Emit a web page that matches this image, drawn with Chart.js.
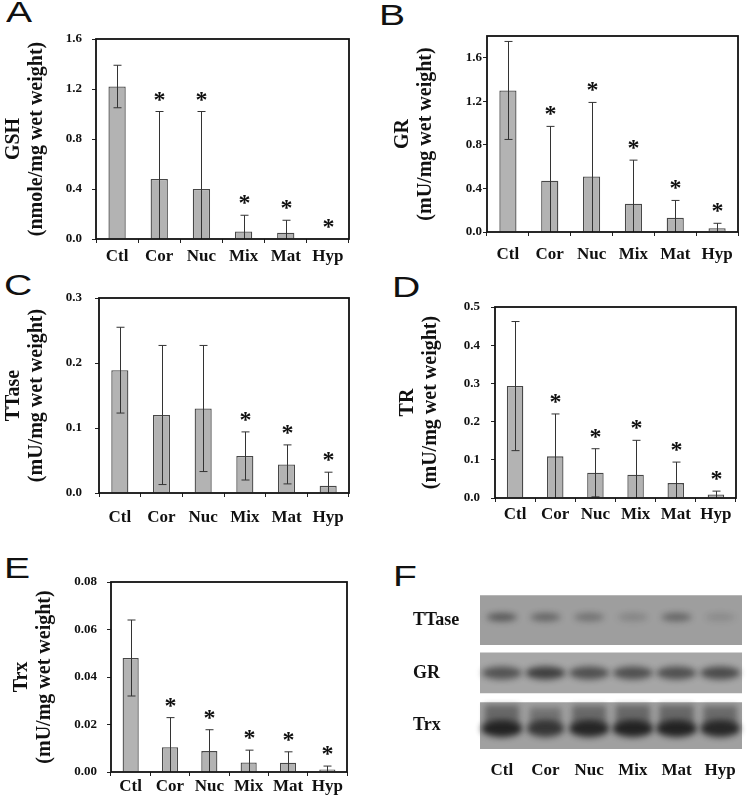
<!DOCTYPE html>
<html>
<head>
<meta charset="utf-8">
<script src="https://cdn.jsdelivr.net/npm/chart.js@4.4.1/dist/chart.umd.min.js"></script>
<style>
  body{margin:0;background:#fff;width:747px;height:799px;position:relative;overflow:hidden;}
  .box{position:absolute;}
  .letter{position:absolute;font:29px "Liberation Sans",Arial,sans-serif;line-height:29px;color:#111;
          transform:scaleX(1.35);transform-origin:left top;}
</style>
</head>
<body>

<div class="letter" style="left:6px;top:-2px">A</div>
<div class="letter" style="left:379px;top:1px">B</div>
<div class="letter" style="left:4px;top:271px">C</div>
<div class="letter" style="left:392px;top:273px">D</div>
<div class="letter" style="left:4px;top:554px">E</div>
<div class="letter" style="left:393px;top:562px">F</div>

<div class="box" style="left:0;top:0;width:370px;height:270px"><canvas id="cA"></canvas></div>
<div class="box" style="left:370px;top:0;width:377px;height:270px"><canvas id="cB"></canvas></div>
<div class="box" style="left:0;top:268px;width:370px;height:265px"><canvas id="cC"></canvas></div>
<div class="box" style="left:370px;top:268px;width:377px;height:265px"><canvas id="cD"></canvas></div>
<div class="box" style="left:0;top:540px;width:370px;height:259px"><canvas id="cE"></canvas></div>
<div class="box" style="left:370px;top:580px;width:377px;height:219px"><canvas id="cF"></canvas></div>

<script>
const groups = ["Ctl","Cor","Nuc","Mix","Mat","Hyp"];

// A - GSH
const gshMean = [1.22, 0.48, 0.40, 0.06, 0.05, 0.0];
const gshSd   = [0.17, 0.54, 0.62, 0.13, 0.10, 0.0];
const gshStar = [0, 1, 1, 1, 1, 1];

// B - GR
const grMean = [1.30, 0.47, 0.51, 0.26, 0.13, 0.035];
const grSd   = [0.45, 0.50, 0.68, 0.40, 0.16, 0.045];
const grStar = [0, 1, 1, 1, 1, 1];

// C - TTase
const ttMean = [0.189, 0.120, 0.130, 0.057, 0.044, 0.011];
const ttSd   = [0.066, 0.107, 0.097, 0.037, 0.030, 0.021];
const ttStar = [0, 0, 0, 1, 1, 1];

// D - TR
const trMean = [0.293, 0.109, 0.066, 0.061, 0.039, 0.009];
const trSd   = [0.169, 0.111, 0.063, 0.090, 0.055, 0.009];
const trStar = [0, 1, 1, 1, 1, 1];

// E - Trx
const trxMean = [0.048, 0.0104, 0.0088, 0.0040, 0.0039, 0.0011];
const trxSd   = [0.016, 0.0125, 0.0090, 0.0052, 0.0046, 0.0014];
const trxStar = [0, 1, 1, 1, 1, 1];

// F - western blot (band darkness 0..1, read by eye)
const blotRows  = ["TTase","GR","Trx"];
const ttaseBand = [0.55, 0.45, 0.35, 0.20, 0.45, 0.15];
const grBand    = [0.60, 0.75, 0.62, 0.62, 0.62, 0.66];
const trxBand   = [0.95, 0.78, 0.92, 0.95, 0.95, 0.90];

const SERIF = '"Liberation Serif","Times New Roman",serif';

/* =====================
   bar panels
===================== */
function barPanel(id, box, plot, o){

  const extras = {
    id:'extras_'+id,
    afterDatasetsDraw(chart){
      const ctx = chart.ctx;
      const meta = chart.getDatasetMeta(0);
      const y = chart.scales.y;
      ctx.save();
      meta.data.forEach((bar,i)=>{
        const hi = o.mean[i] + o.sd[i];
        const lo = Math.max(0, o.mean[i] - o.sd[i]);
        const x = Math.round(bar.x) + 0.5;
        const yh = y.getPixelForValue(hi);
        if(o.sd[i] > 0){
          const yl = y.getPixelForValue(lo);
          ctx.strokeStyle = '#333';
          ctx.lineWidth = 1;
          ctx.beginPath();
          ctx.moveTo(x, yh); ctx.lineTo(x, yl);
          ctx.moveTo(x-4, yh); ctx.lineTo(x+4, yh);
          if(lo > 0){ ctx.moveTo(x-4, yl); ctx.lineTo(x+4, yl); }
          ctx.stroke();
        }
        if(o.star[i]){
          ctx.fillStyle = '#111';
          ctx.font = 'bold 24px ' + SERIF;
          ctx.textAlign = 'center';
          ctx.textBaseline = 'alphabetic';
          ctx.fillText('*', x, yh - 16 + 11);
        }
      });
      const a = chart.chartArea;
      ctx.strokeStyle = '#111';
      ctx.lineWidth = 1.8;
      ctx.strokeRect(a.left, a.top, a.right - a.left, a.bottom - a.top);
      ctx.restore();
    }
  };

  new Chart(document.getElementById(id), {
    type:'bar',
    data:{
      labels:groups,
      datasets:[{
        data:o.mean,
        backgroundColor:'#b3b3b3',
        borderColor:'#474747',
        borderWidth:1.3,
        barPercentage:0.41,
        categoryPercentage:1
      }]
    },
    options:{
      responsive:true, maintainAspectRatio:false, animation:false,
      layout:{padding:{left:0, top:plot.t - box.y, right:box.x + box.w - plot.r, bottom:0}},
      plugins:{legend:{display:false}, tooltip:{enabled:false}},
      scales:{
        x:{
          grid:{display:true, drawOnChartArea:false, offset:true, tickLength:4, color:'#222', lineWidth:1},
          border:{display:false},
          ticks:{color:'#111', padding:o.xPad, maxRotation:0, autoSkip:false,
                 font:{family:SERIF, size:17, weight:'bold'}},
          afterFit:s=>{ s.height = box.y + box.h - plot.b; }
        },
        y:{
          min:0, max:o.max,
          grid:{drawOnChartArea:false, tickLength:4, color:'#222', lineWidth:1},
          border:{display:false},
          ticks:{stepSize:o.step, color:'#111', padding:o.yPad,
                 font:{family:SERIF, size:13, weight:'bold'},
                 callback:v=>Number(v).toFixed(o.dec)},
          afterBuildTicks:s=>{ s.ticks = s.ticks.filter(t=>t.value <= o.last + 1e-9); },
          title:{display:true, text:[o.name, o.unit], color:'#111',
                 font:{family:SERIF, size:20, weight:'bold', lineHeight:1.15},
                 padding:{top:o.tPad, bottom:0}},
          afterFit:s=>{ s.width = plot.l - box.x; }
        }
      }
    },
    plugins:[extras]
  });
}

const unitMU = "(mU/mg wet weight)";

barPanel("cA", {x:0,y:0,w:370,h:270}, {l:96,r:349,t:39,b:239},
  {mean:gshMean, sd:gshSd, star:gshStar, max:1.6, step:0.4, last:1.6, dec:1,
   name:"GSH", unit:"(nmole/mg wet weight)", tPad:2.5, yPad:10, xPad:3.8});

barPanel("cB", {x:370,y:0,w:377,h:270}, {l:487,r:738,t:36,b:232},
  {mean:grMean, sd:grSd, star:grStar, max:1.8, step:0.4, last:1.6, dec:1,
   name:"GR", unit:unitMU, tPad:21.5, yPad:1, xPad:8.8});

barPanel("cC", {x:0,y:268,w:370,h:265}, {l:99,r:349,t:298,b:493},
  {mean:ttMean, sd:ttSd, star:ttStar, max:0.3, step:0.1, last:0.3, dec:1,
   name:"TTase", unit:unitMU, tPad:2.5, yPad:13, xPad:10.8});

barPanel("cD", {x:370,y:268,w:377,h:265}, {l:495,r:736,t:307,b:498},
  {mean:trMean, sd:trSd, star:trStar, max:0.5, step:0.1, last:0.5, dec:1,
   name:"TR", unit:unitMU, tPad:26.5, yPad:11, xPad:2.8});

barPanel("cE", {x:0,y:540,w:370,h:259}, {l:111,r:347,t:582,b:772},
  {mean:trxMean, sd:trxSd, star:trxStar, max:0.08, step:0.02, last:0.08, dec:2,
   name:"Trx", unit:unitMU, tPad:10.5, yPad:10, xPad:0.8});

/* =====================
   F - blot
===================== */
function bandImage(dark, w, h, dy, smear){
  const pad = 12;
  const c = document.createElement('canvas');
  c.width = Math.round(w + pad*2);
  c.height = Math.round(h + pad*2 + smear*2 + Math.abs(dy)*2);
  const g = c.getContext('2d');
  const cx = c.width/2, cy = c.height/2 + dy;
  g.filter = 'blur(3px)';
  if(smear > 0){
    g.fillStyle = 'rgba(40,40,40,' + (dark*0.5) + ')';
    g.fillRect(cx - w*0.42, cy - h/2 - smear, w*0.84, smear + h*0.4);
  }
  g.fillStyle = 'rgba(28,28,28,' + dark + ')';
  g.beginPath();
  g.ellipse(cx, cy, w/2, h/2, 0, 0, Math.PI*2);
  g.fill();
  return c;
}

const ttaseImgs = ttaseBand.map(d=>bandImage(d, 30, 8, -3, 0));
const grImgs    = grBand.map(d=>bandImage(d, 40, 13, 0, 0));
const trxImgs   = trxBand.map(d=>bandImage(d, 42*(0.5+0.5*d), 17, 3, 16*d));

function bandSet(row, imgs){
  return {
    type:'scatter', xAxisID:'lanes', yAxisID:'y',
    data:groups.map(g=>({x:g, y:row})),
    pointStyle:imgs, pointRadius:3, clip:false
  };
}

function strip(i, color, thick){
  const d = [null,null,null];
  d[i] = [0,1];
  return {type:'bar', indexAxis:'y', xAxisID:'x', yAxisID:'y', data:d,
          backgroundColor:color, borderWidth:0, grouped:false, barThickness:thick};
}

new Chart(document.getElementById("cF"), {
  type:'bar',
  data:{
    labels:blotRows,
    datasets:[
      bandSet("TTase", ttaseImgs),
      bandSet("GR", grImgs),
      bandSet("Trx", trxImgs),
      strip(0, '#9e9e9e', 49),
      strip(1, '#a6a6a6', 40),
      strip(2, '#a0a0a0', 46)
    ]
  },
  options:{
    indexAxis:'y',
    responsive:true, maintainAspectRatio:false, animation:false,
    layout:{padding:{left:43, top:4, right:0, bottom:0}},
    plugins:{legend:{display:false}, tooltip:{enabled:false}},
    scales:{
      x:{type:'linear', display:false, min:0, max:1},
      lanes:{type:'category', axis:'x', position:'bottom', labels:groups, offset:true,
             grid:{display:false, drawTicks:false}, border:{display:false},
             ticks:{color:'#111', padding:8.8, font:{family:SERIF, size:17, weight:'bold'}},
             afterFit:s=>{ s.height = 47; }},
      y:{type:'category', offset:true,
         grid:{display:false, drawTicks:false}, border:{display:false},
         ticks:{color:'#111', crossAlign:'far', font:{family:SERIF, size:18, weight:'bold'}},
         afterFit:s=>{ s.width = 67; }}
    }
  }
});
</script>
</body>
</html>
